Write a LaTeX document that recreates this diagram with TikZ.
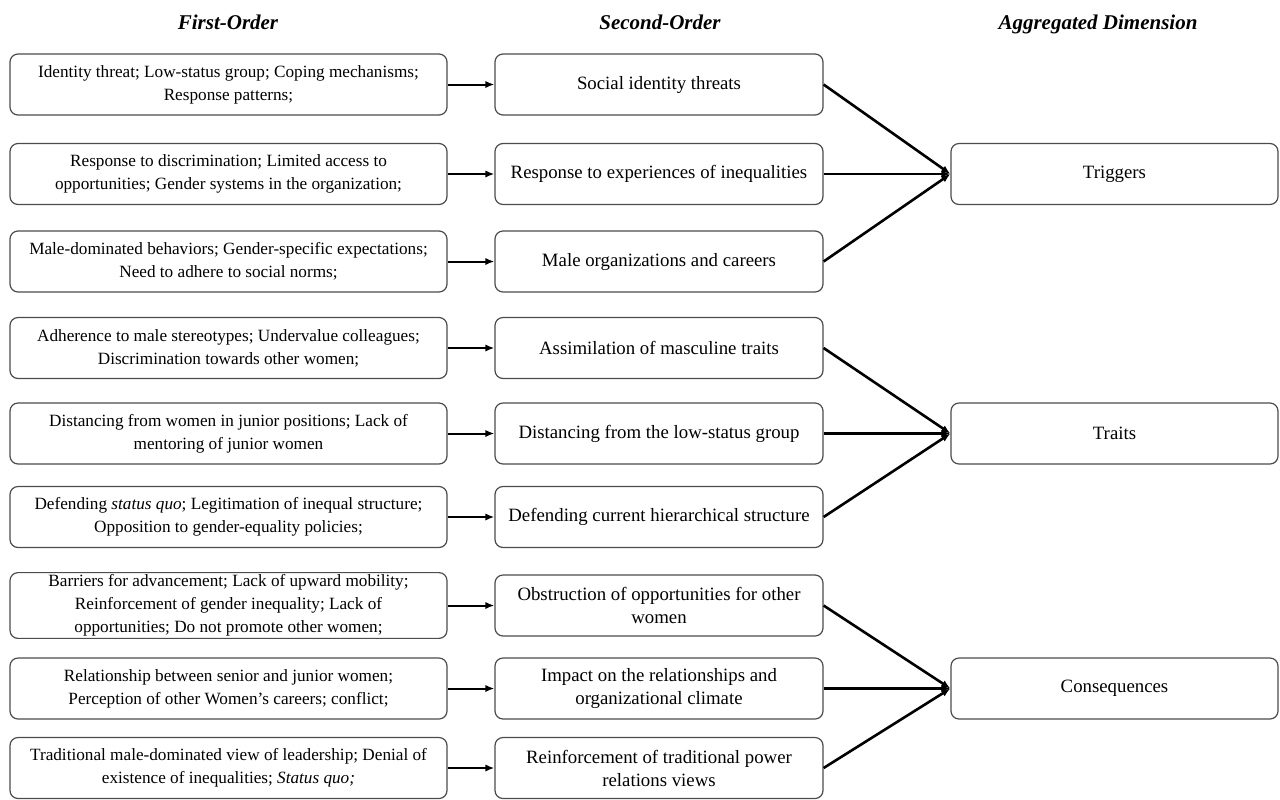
\documentclass[tikz,border=0pt]{standalone}
\usepackage{fontspec}
\setmainfont{Liberation Serif}
\usetikzlibrary{arrows.meta}

\begin{document}
\begin{tikzpicture}[
    x=0.5pt, y=-0.5pt,
    >={Latex[length=4.5pt, width=3.6pt]},
    header/.style={anchor=base, font=\fontsize{10.5}{12}\selectfont\bfseries\itshape},
    first/.style={draw=black!70, line width=0.6pt, rounded corners=4pt, minimum width=218.5pt, minimum height=30.5pt, inner sep=1pt, align=center, font=\fontsize{8.6}{11.5}\selectfont},
    second/.style={first, minimum width=164pt, font=\fontsize{9.4}{11.5}\selectfont},
    dimension/.style={second, minimum width=163.5pt},
    link/.style={->, line width=1pt},
    merge/.style={->, line width=1.3pt}
]

\useasboundingbox (0,0) rectangle (1280,799);

% Column Headers
\node[header] (H1) at (228, 29) {First-Order};
\node[header] (H2) at (660, 29) {Second-Order};
\node[header] (H3) at (1098, 29) {Aggregated Dimension};

% First-Order Codes
\node[first] (F1) at (228.5, 84.5) {Identity threat; Low-status group; Coping mechanisms;\\Response patterns;};
\node[first] (F2) at (228.5, 174) {Response to discrimination; Limited access to\\opportunities; Gender systems in the organization;};
\node[first] (F3) at (228.5, 261.5) {Male-dominated behaviors; Gender-specific expectations;\\Need to adhere to social norms;};
\node[first] (F4) at (228.5, 348) {Adherence to male stereotypes; Undervalue colleagues;\\Discrimination towards other women;};
\node[first] (F5) at (228.5, 433.5) {Distancing from women in junior positions; Lack of\\mentoring of junior women};
\node[first] (F6) at (228.5, 517) {Defending \textit{status quo}; Legitimation of inequal structure;\\Opposition to gender-equality policies;};
\node[first] (F7) at (228.5, 605.5) {Barriers for advancement; Lack of upward mobility;\\Reinforcement of gender inequality; Lack of\\opportunities; Do not promote other women;};
\node[first] (F8) at (228.5, 688.5) {Relationship between senior and junior women;\\Perception of other Women’s careers; conflict;};
\node[first] (F9) at (228.5, 768) {Traditional male-dominated view of leadership; Denial of\\existence of inequalities; \textit{Status quo;}};

% Second-Order Themes
\node[second] (S1) at (659, 84.5) {Social identity threats};
\node[second] (S2) at (659, 174) {Response to experiences of inequalities};
\node[second] (S3) at (659, 261.5) {Male organizations and careers};
\node[second] (S4) at (659, 348) {Assimilation of masculine traits};
\node[second] (S5) at (659, 433.5) {Distancing from the low-status group};
\node[second] (S6) at (659, 517) {Defending current hierarchical structure};
\node[second] (S7) at (659, 605.5) {Obstruction of opportunities for other\\women};
\node[second] (S8) at (659, 688.5) {Impact on the relationships and\\organizational climate};
\node[second] (S9) at (659, 768) {Reinforcement of traditional power\\relations views};

% Aggregated Dimensions
\node[dimension] (A1) at (1114.5, 174) {Triggers};
\node[dimension] (A2) at (1114.5, 433.5) {Traits};
\node[dimension] (A3) at (1114.5, 688.5) {Consequences};

\draw[link] (F1) -- (S1);
\draw[link] (F2) -- (S2);
\draw[link] (F3) -- (S3);
\draw[link] (F4) -- (S4);
\draw[link] (F5) -- (S5);
\draw[link] (F6) -- (S6);
\draw[link] (F7) -- (S7);
\draw[link] (F8) -- (S8);
\draw[link] (F9) -- (S9);

\draw[merge] (S1.east) -- (A1.west);
\draw[merge] (S2.east) -- (A1.west);
\draw[merge] (S3.east) -- (A1.west);

\draw[merge] (S4.east) -- (A2.west);
\draw[merge] (S5.east) -- (A2.west);
\draw[merge] (S6.east) -- (A2.west);

\draw[merge] (S7.east) -- (A3.west);
\draw[merge] (S8.east) -- (A3.west);
\draw[merge] (S9.east) -- (A3.west);

\end{tikzpicture}
\end{document}
